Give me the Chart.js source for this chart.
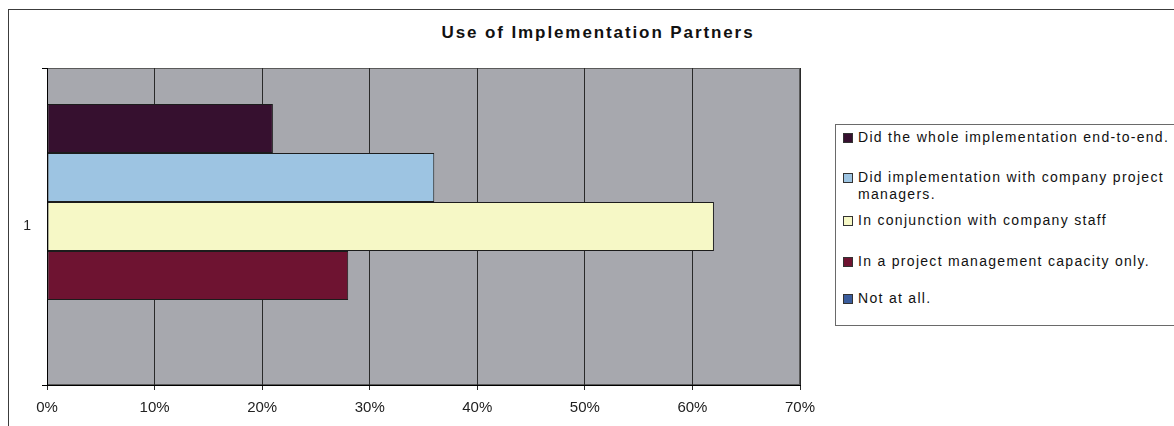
<!DOCTYPE html>
<html>
<head>
<meta charset="utf-8">
<title>Use of Implementation Partners</title>
<script src="https://cdn.jsdelivr.net/npm/chart.js@4"></script>
<style>
    html, body { margin: 0; padding: 0; background: #fff; overflow: hidden; }
    body { width: 1174px; height: 426px; position: relative; font-family: 'Liberation Sans', Arial, sans-serif; color: #111; }
    #frame { position: absolute; left: 8px; top: 9px; width: 1300px; height: 600px; border: 1px solid #3c3c3c; box-sizing: border-box; }
    #title { position: absolute; left: 8px; width: 1180px; top: 23px; text-align: center; font-weight: bold; font-size: 17px; letter-spacing: 1.9px; }
    #wrap { position: absolute; left: 0; top: 0; width: 1174px; height: 426px; }
    #legend { position: absolute; left: 835px; top: 124px; width: 360px; height: 202px; border: 1px solid #6a6a6a; box-sizing: border-box; background: #fff; }
    .item { position: absolute; left: 22px; font-size: 14px; line-height: 17px; letter-spacing: 1.3px; width: 325px; }
    .swatch { position: absolute; left: -15px; top: 4px; width: 8px; height: 8px; border: 1px solid #333; }
</style>
</head>
<body>
<div id="frame"></div>
<div id="title">Use of Implementation Partners</div>
<div id="wrap"><canvas id="chartPartners" width="1174" height="426"></canvas></div>
<div id="legend"></div>

<script>
// Survey answers: share of respondents per way of using implementation partners
const categories = ['1'];
const seriesLabels = [
    'Did the whole implementation end-to-end.',
    'Did implementation with company project managers.',
    'In conjunction with company staff',
    'In a project management capacity only.',
    'Not at all.',
];
const seriesValues = [21, 36, 62, 28, 0];
const seriesColors = ['#36102f', '#9dc4e2', '#f6f8c6', '#6e1331', '#3a5c9c'];
const xTicks = [0, 10, 20, 30, 40, 50, 60, 70];

// legend row offsets inside the box (the second entry wraps onto two lines)
const legendRows = [4, 44, 87, 128, 165];

Chart.defaults.font.family = "'Liberation Sans', Arial, sans-serif";
Chart.defaults.color = '#222';

// grey plot background with a thin frame, like the old spreadsheet charts
const plotBackground = {
    id: 'plotBackground',
    beforeDraw(chart) {
        const { ctx, chartArea: a } = chart;
        ctx.save();
        ctx.fillStyle = '#a7a8ae';
        ctx.fillRect(a.left, a.top, a.right - a.left, a.bottom - a.top);
        ctx.strokeStyle = '#5a5a5a';
        ctx.lineWidth = 1;
        ctx.strokeRect(a.left + 0.5, a.top + 0.5, a.right - a.left - 1, a.bottom - a.top - 1);
        ctx.restore();
    },
};

const datasets = seriesLabels.map((label, i) => ({
    label,
    data: [seriesValues[i]],
    backgroundColor: seriesColors[i],
    borderColor: '#1c1c1c',
    borderWidth: 1,
    borderSkipped: false,
    barPercentage: 1,
    categoryPercentage: 0.773,
}));

new Chart(document.getElementById('chartPartners'), {
    type: 'bar',
    data: { labels: categories, datasets },
    options: {
        indexAxis: 'y',
        responsive: false,
        animation: false,
        layout: { padding: { top: 68, right: 374, left: 0, bottom: 0 } },
        plugins: {
            legend: { display: false },
            tooltip: { enabled: false },
        },
        scales: {
            x: {
                min: xTicks[0],
                max: xTicks[xTicks.length - 1],
                afterBuildTicks: scale => { scale.ticks = xTicks.map(v => ({ value: v })); },
                afterFit: scale => { scale.height = 41; },
                grid: { color: '#2a2a2a', lineWidth: 1, tickLength: 5 },
                border: { display: true, color: '#000', width: 1 },
                ticks: {
                    callback: v => v + '%',
                    font: { size: 15 },
                    color: '#222',
                    padding: 9,
                    maxRotation: 0,
                },
            },
            y: {
                afterFit: scale => { scale.width = 47; },
                grid: { drawOnChartArea: false, color: '#000', tickLength: 5 },
                border: { display: true, color: '#000', width: 1 },
                ticks: { font: { size: 14 }, color: '#222', padding: 11 },
            },
        },
    },
    plugins: [plotBackground],
});

// legend box built from the same series arrays
const legendEl = document.getElementById('legend');
seriesLabels.forEach((label, i) => {
    const item = document.createElement('div');
    item.className = 'item';
    item.style.top = legendRows[i] + 'px';
    const sw = document.createElement('span');
    sw.className = 'swatch';
    sw.style.background = seriesColors[i];
    item.appendChild(sw);
    item.appendChild(document.createTextNode(label));
    legendEl.appendChild(item);
});
</script>
</body>
</html>
